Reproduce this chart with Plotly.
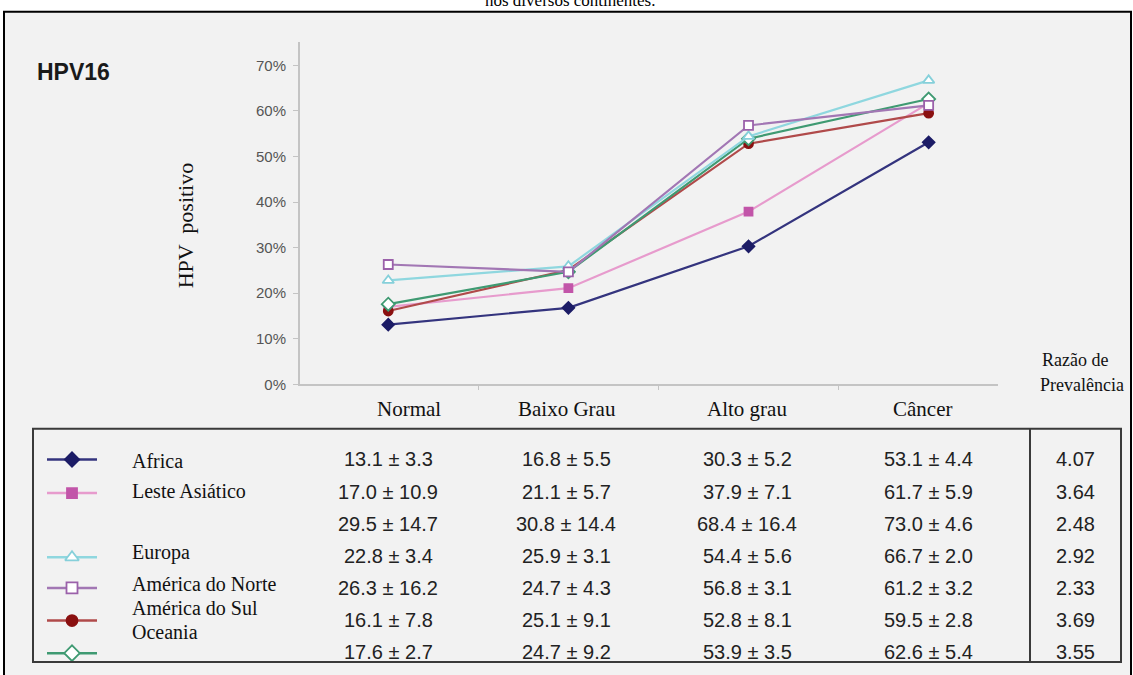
import plotly.graph_objects as go

W, H = 1133, 675

# ---------------- data ----------------
stages = ["Normal", "Baixo Grau", "Alto grau", "Câncer"]
region_names = ["Africa", "Leste Asiático", "", "Europa", "América do Norte", "América do Sul", "Oceania"]

africa = [13.1, 16.8, 30.3, 53.1]
africa_sd = [3.3, 5.5, 5.2, 4.4]
leste = [17.0, 21.1, 37.9, 61.7]
leste_sd = [10.9, 5.7, 7.1, 5.9]
row3 = [29.5, 30.8, 68.4, 73.0]
row3_sd = [14.7, 14.4, 16.4, 4.6]
europa = [22.8, 25.9, 54.4, 66.7]
europa_sd = [3.4, 3.1, 5.6, 2.0]
amnorte = [26.3, 24.7, 56.8, 61.2]
amnorte_sd = [16.2, 4.3, 3.1, 3.2]
amsul = [16.1, 25.1, 52.8, 59.5]
amsul_sd = [7.8, 9.1, 8.1, 2.8]
oceania = [17.6, 24.7, 53.9, 62.6]
oceania_sd = [2.7, 9.2, 3.5, 5.4]
ratios = [4.07, 3.64, 2.48, 2.92, 2.33, 3.69, 3.55]
y_ticks = [0, 10, 20, 30, 40, 50, 60, 70]
y_ticktext = ["0%", "10%", "20%", "30%", "40%", "50%", "60%", "70%"]

means = [africa, leste, row3, europa, amnorte, amsul, oceania]
sds = [africa_sd, leste_sd, row3_sd, europa_sd, amnorte_sd, amsul_sd, oceania_sd]

# ---------------- styles ----------------
styles = {
    "Africa": dict(line="#34347e", mk="#1c1c66", sym="diamond", fill="#1c1c66", size=9),
    "Leste Asiático": dict(line="#e79bcd", mk="#c255a9", sym="square", fill="#c255a9", size=8),
    "Europa": dict(line="#8fd7df", mk="#86d0da", sym="triangle-up", fill="#ffffff", size=10),
    "América do Norte": dict(line="#a277b4", mk="#9b61aa", sym="square", fill="#ffffff", size=9),
    "América do Sul": dict(line="#b04a4a", mk="#8a1010", sym="circle", fill="#8a1010", size=9),
    "Oceania": dict(line="#3f9a72", mk="#3f9a72", sym="diamond", fill="#ffffff", size=10),
}
plot_order = ["Leste Asiático", "Africa", "América do Sul", "Oceania", "Europa", "América do Norte"]
series = dict(zip(region_names, means))


def px(x):
    return x / W


def py(y):
    return 1 - y / H


fig = go.Figure()

for name in plot_order:
    s = styles[name]
    fig.add_trace(go.Scatter(
        x=stages, y=series[name], mode="lines+markers", name=name,
        line=dict(color=s["line"], width=2.2),
        marker=dict(symbol=s["sym"], size=s["size"], color=s["fill"],
                    line=dict(color=s["mk"], width=1.8)),
        xaxis="x", yaxis="y", showlegend=False,
    ))

# ---------------- table layout ----------------
row_y = [465, 497.5, 530, 562.5, 595, 627.5, 660]
col_x = [388, 566, 747, 928]
ratio_x = 1075
leg_sym_y = {"Africa": 465, "Leste Asiático": 499, "Europa": 564,
             "América do Norte": 595, "América do Sul": 628, "Oceania": 661}
leg_txt_y = {"Africa": 467, "Leste Asiático": 497, "Europa": 559,
             "América do Norte": 591, "América do Sul": 615, "Oceania": 640}

# legend symbols on a full-page pixel overlay axis
for name, s in styles.items():
    yy = leg_sym_y[name]
    fig.add_trace(go.Scatter(
        x=[47, 97], y=[yy, yy], mode="lines", line=dict(color=s["line"], width=2.5),
        xaxis="x2", yaxis="y2", showlegend=False, hoverinfo="skip"))
    fig.add_trace(go.Scatter(
        x=[72], y=[yy], mode="markers",
        marker=dict(symbol=s["sym"], size=s["size"] + 2, color=s["fill"],
                    line=dict(color=s["mk"], width=1.8)),
        xaxis="x2", yaxis="y2", showlegend=False, hoverinfo="skip"))

annotations = []
serif = "Liberation Serif"
sans = "Liberation Sans"

# cut title at top
annotations.append(dict(x=px(570), y=py(0), xref="paper", yref="paper",
                        text="nos diversos continentes.", showarrow=False,
                        font=dict(family=serif, size=17, color="#000"),
                        xanchor="center", yanchor="middle"))
# HPV16
annotations.append(dict(x=px(35), y=py(73), xref="paper", yref="paper",
                        text="<b>HPV16</b>", showarrow=False,
                        font=dict(family=sans, size=23, color="#1a1a1a"),
                        xanchor="left", yanchor="middle"))
# y title
annotations.append(dict(x=px(185), y=py(228), xref="paper", yref="paper",
                        text="HPV  positivo", showarrow=False, textangle=-90,
                        font=dict(family=serif, size=22, color="#111"),
                        xanchor="center", yanchor="middle"))
# x category labels
for lab, xx in zip(stages, [409, 567, 747, 922]):
    annotations.append(dict(x=px(xx), y=py(414), xref="paper", yref="paper",
                            text=lab, showarrow=False,
                            font=dict(family=serif, size=21, color="#111"),
                            xanchor="center", yanchor="middle"))
# Razão de Prevalência
annotations.append(dict(x=px(1040), y=py(364), xref="paper", yref="paper",
                        text="Razão de", showarrow=False,
                        font=dict(family=serif, size=18, color="#111"),
                        xanchor="left", yanchor="middle"))
annotations.append(dict(x=px(1038), y=py(390), xref="paper", yref="paper",
                        text="Prevalência", showarrow=False,
                        font=dict(family=serif, size=18, color="#111"),
                        xanchor="left", yanchor="middle"))

# table values
for r, (m, sd) in enumerate(zip(means, sds)):
    for c in range(4):
        annotations.append(dict(x=px(col_x[c]), y=py(row_y[r]), xref="paper", yref="paper",
                                text=f"{m[c]:.1f} ± {sd[c]:.1f}", showarrow=False,
                                font=dict(family=sans, size=20, color="#222"),
                                xanchor="center", yanchor="middle"))
    annotations.append(dict(x=px(ratio_x), y=py(row_y[r]), xref="paper", yref="paper",
                            text=f"{ratios[r]:.2f}", showarrow=False,
                            font=dict(family=sans, size=20, color="#222"),
                            xanchor="center", yanchor="middle"))

# legend names
for name in styles:
    annotations.append(dict(x=px(130), y=py(leg_txt_y[name]), xref="paper", yref="paper",
                            text=name, showarrow=False,
                            font=dict(family=serif, size=20, color="#111"),
                            xanchor="left", yanchor="middle"))

shapes = [
    # outer frame with grey fill
    dict(type="rect", xref="paper", yref="paper", x0=px(4), x1=px(1131), y0=py(690), y1=py(12),
         fillcolor="#f2f2f2", line=dict(color="#000", width=2), layer="below"),
    # table box
    dict(type="rect", xref="paper", yref="paper", x0=px(33), x1=px(1121), y0=py(670), y1=py(434),
         line=dict(color="#3a3a3a", width=2), layer="above"),
    dict(type="line", xref="paper", yref="paper", x0=px(1030), x1=px(1030), y0=py(670), y1=py(434),
         line=dict(color="#3a3a3a", width=2), layer="above"),
]

fig.update_layout(
    width=W, height=H,
    margin=dict(l=0, r=0, t=0, b=0),
    paper_bgcolor="#ffffff",
    plot_bgcolor="rgba(0,0,0,0)",
    showlegend=False,
    xaxis=dict(domain=[px(300), px(998)], type="category", range=[-0.49, 3.385],
               showticklabels=False, showgrid=False, zeroline=False,
               showline=True, linecolor="#c4c4c4", linewidth=2,
               ticks="outside", tickson="boundaries", ticklen=4, tickcolor="#c4c4c4",
               anchor="y"),
    yaxis=dict(domain=[py(389), py(43)], range=[0, 75],
               tickmode="array", tickvals=y_ticks, ticktext=y_ticktext,
               tickfont=dict(family=sans, size=15, color="#555"),
               showgrid=False, zeroline=False,
               showline=True, linecolor="#c4c4c4", linewidth=2,
               ticks="outside", ticklen=5, tickcolor="#c4c4c4",
               ticklabelstandoff=4, anchor="x"),
    xaxis2=dict(domain=[0, 1], range=[0, W], visible=False, anchor="y2", fixedrange=True),
    yaxis2=dict(domain=[0, 1], range=[H, 0], visible=False, anchor="x2", fixedrange=True),
    annotations=annotations,
    shapes=shapes,
)

fig.write_html("out.html", config={"displayModeBar": False})
